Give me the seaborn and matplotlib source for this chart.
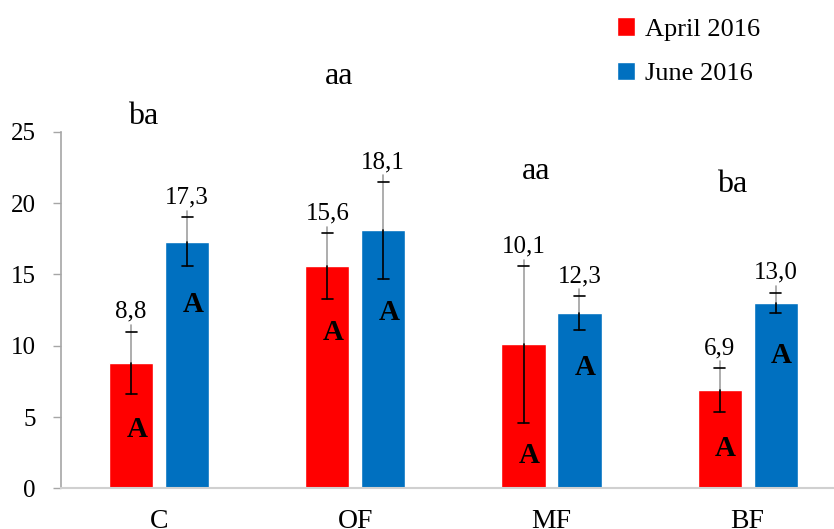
import pandas as pd
import matplotlib
matplotlib.use("Agg")
import matplotlib.pyplot as plt
import seaborn as sns

# values
sites = ["C", "OF", "MF", "BF"]
periods = ["April 2016", "June 2016"]
april = [8.8, 15.6, 10.1, 6.9]
june = [17.3, 18.1, 12.3, 13.0]
april_err = [2.2, 2.3, 5.5, 1.55]
june_err = [1.7, 3.4, 1.2, 0.73]
april_letters = ["A", "A", "A", "A"]
june_letters = ["A", "A", "A", "A"]
april_letter_y = [4.1, 10.9, 2.3, 2.8]
june_letter_y = [12.9, 12.3, 8.5, 9.35]
group_letters = ["ba", "aa", "aa", "ba"]
group_letter_y = [26.1, 28.9, 22.2, 21.3]

df = pd.DataFrame({
    "site": sites * 2,
    "period": [periods[0]] * 4 + [periods[1]] * 4,
    "value": april + june,
})

sns.set_style("white")
plt.rcParams["font.family"] = ["Liberation Serif", "DejaVu Serif"]
plt.rcParams["text.color"] = "black"

fig = plt.figure(figsize=(8.34, 5.29), dpi=100)
ax = fig.add_axes([0.0731, 0.077, 0.9269, 0.6735])

sns.barplot(data=df, x="site", y="value", hue="period", order=sites,
            hue_order=periods, palette=["#FF0000", "#0070C0"], saturation=1,
            width=0.57, gap=0.21, errorbar=None, legend=True, ax=ax)

errs = [april_err, june_err]
vals = [april, june]
letters = [april_letters, june_letters]
letter_y = [april_letter_y, june_letter_y]
bar_groups = list(ax.containers)
for k, cont in enumerate(bar_groups):
    for i, bar in enumerate(cont):
        x = bar.get_x() + bar.get_width() / 2
        v = vals[k][i]
        e = errs[k][i]
        # upper half gray, lower half black (as in the source)
        ax.plot([x, x], [v, v + e + 0.45], color="#A0A0A0", lw=1.2)
        ax.plot([x, x], [v - e, v], color="black", lw=1.2)
        for yy in (v - e, v + e):
            ax.plot([x - 0.028, x + 0.028], [yy, yy], color="black", lw=1.2)
        ax.annotate(f"{v:.1f}".replace(".", ","), (x, v + e), xytext=(0, 10),
                    textcoords="offset points", ha="center", va="baseline",
                    fontsize=18, color="black")
        ax.text(x + 0.03, letter_y[k][i], letters[k][i], ha="center",
                va="center", fontsize=21, fontweight="bold", color="black")

for i, t in enumerate(group_letters):
    ax.text(i - 0.08, group_letter_y[i], t, ha="center", va="center",
            fontsize=23, clip_on=False, color="black")

ax.set_xlim(-0.5, 3.44)
ax.set_ylim(0, 25)
ax.set_yticks([0, 5, 10, 15, 20, 25])
ax.set_xlabel("")
ax.set_ylabel("")
ax.tick_params(axis="y", labelsize=18, length=6, width=1, color="#A6A6A6",
               labelcolor="black", direction="out", left=True, pad=12)
ax.tick_params(axis="x", labelsize=20, length=0, pad=15, labelcolor="black")
sns.despine(ax=ax)
ax.spines["left"].set_color("#A6A6A6")
ax.spines["bottom"].set_color("#D0D0D0")
ax.spines["left"].set_linewidth(1.2)
ax.spines["bottom"].set_linewidth(1.5)

leg = ax.legend(loc="upper left", bbox_to_anchor=(0.724, 0.992),
                bbox_transform=fig.transFigure, frameon=False, fontsize=19,
                handlelength=0.7, handleheight=0.7, handletextpad=0.35,
                labelspacing=0.8, borderaxespad=0.1)
for t in leg.get_texts():
    t.set_color("black")

fig.savefig("out.png", dpi=100)
